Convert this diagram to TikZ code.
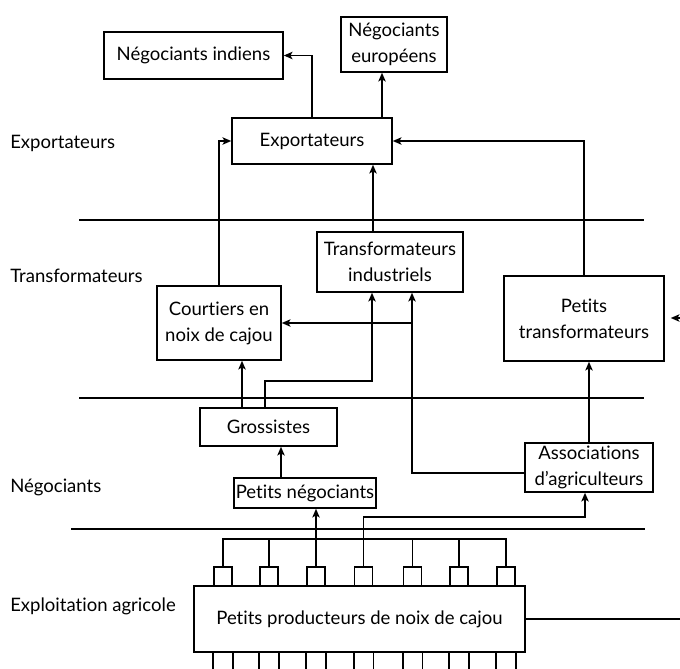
\documentclass[tikz,border=0pt]{standalone}
\usepackage{fontspec}
\setmainfont{Lato}[Ligatures=NoCommon]
\usetikzlibrary{arrows.meta}
% a box given by its corners in pixel units
\newcommand\boxnode[6]{%
  \pgfmathsetmacro\bcx{(#2+#4)/2}\pgfmathsetmacro\bcy{(#3+#5)/2}%
  \pgfmathsetmacro\bw{(#4-#2)*0.75}\pgfmathsetmacro\bh{(#5-#3)*0.75}%
  \node[box, minimum width=\bw pt, minimum height=\bh pt] (#1) at (\bcx,\bcy) {#6};}
\begin{document}
\begin{tikzpicture}[x=0.75pt,y=-0.75pt,
  box/.style={draw, line width=1.15pt, inner sep=0pt, align=center,
    font=\fontsize{13.9}{19.5}\selectfont},
  tier/.style={anchor=west, inner sep=0pt, font=\fontsize{13.9}{16}\selectfont},
  link/.style={line width=1.15pt},
  arr/.style={link, -{Stealth[length=6.5pt,width=5.5pt,inset=1.5pt]}},
  sepline/.style={line width=1.15pt}]
\useasboundingbox (0,0) rectangle (680,668);

% tier labels
\node[tier] (lexp) at (10,143) {Exportateurs};
\node[tier] (ltra) at (10,276) {Transformateurs};
\node[tier] (lneg) at (10,487) {Négociants};
\node[tier] (lexa) at (10,606) {Exploitation agricole};

% tier separators
\draw[sepline] (79,220) -- (644,220);
\draw[sepline] (79,398) -- (644,398);
\draw[sepline] (71,529) -- (645,529);

% boxes
\boxnode{indiens}{104}{32}{283}{79}{Négociants indiens}
\boxnode{europ}{341}{17}{447}{72}{Négociants\\européens}
\boxnode{expo}{232}{118}{392}{164}{Exportateurs}
\boxnode{indus}{317}{232}{463}{292}{Transformateurs\\industriels}
\boxnode{courtiers}{157}{286}{281}{360}{Courtiers en\\noix de cajou}
\boxnode{ptrans}{504}{276}{664}{361}{Petits\\transformateurs}
\boxnode{gros}{200}{408}{337}{446}{Grossistes}
\boxnode{assoc}{525}{443}{653}{492}{Associations\\d’agriculteurs}
\boxnode{pneg}{234}{478}{376}{508}{Petits négociants}
\boxnode{prod}{194}{586}{525}{652}{Petits producteurs de noix de cajou}

% small producer boxes
\foreach \i/\x in {1/223,2/269,3/316,4/363.5,5/412.5,6/459,7/506}
  \node[draw, line width=1.15pt, inner sep=0pt, minimum width=13.5pt,
        minimum height=14.25pt] (s\i) at (\x,576.5) {};

% helper columns and rows
\coordinate (xEu) at (382,0);
\coordinate (xB) at (373,0);
\coordinate (xD) at (412,0);
\coordinate (xE) at (242,0);
\coordinate (xF) at (265,0);
\coordinate (xG) at (372,0);
\coordinate (xI) at (281,0);
\coordinate (xJ) at (585,0);
\coordinate (yL) at (0,473);
\coordinate (yT) at (0,381);
\coordinate (yA) at (0,517);
\coordinate (bus) at (0,539);
\coordinate (rin) at (680,318);
\coordinate (rout) at (680,0);

% flows towards exporters and beyond
\draw[arr] (expo.north) |- (indiens.east);
\draw[arr] (expo.north -| xEu) -- (europ.south -| xEu);
\draw[arr] (courtiers.north) |- (expo.west);
\draw[arr] (indus.north -| xB) -- (expo.south -| xB);
\draw[arr] (ptrans.north) |- (expo.east);

% processors
\draw[arr] (assoc.west |- yL) -| (indus.south -| xD);
\draw[arr] (courtiers.east -| xD) -- (courtiers.east);
\draw[arr] (gros.north -| xE) -- (courtiers.south -| xE);
\draw[arr] (gros.north -| xF) -- (xF |- yT) -| (indus.south -| xG);
\draw[arr] (assoc.north) -- (ptrans.south -| assoc.north);
\draw[arr] (rin) -- ([xshift=4.5pt]ptrans.east |- rin);

% traders
\draw[arr] (pneg.north -| xI) -- (gros.south -| xI);

% producers
\draw[link] (s1.north) -- (s1.north |- bus) -- (s7.north |- bus) -- (s7.north);
\foreach \i in {2,5,6}
  \draw[link] (s\i.north) -- (s\i.north |- bus);
\draw[arr] (s3.north) -- (s3.north |- pneg.south);
\draw[arr] (s4.north) |- (xJ |- yA) -- (xJ |- assoc.south);
\draw[link] (prod.east) -- (rout |- prod.east);
\foreach \i in {1,...,7} {
  \draw[link] (s\i.west |- prod.south) -- ++(0,20);
  \draw[link] (s\i.east |- prod.south) -- ++(0,20);
}
\end{tikzpicture}
\end{document}
